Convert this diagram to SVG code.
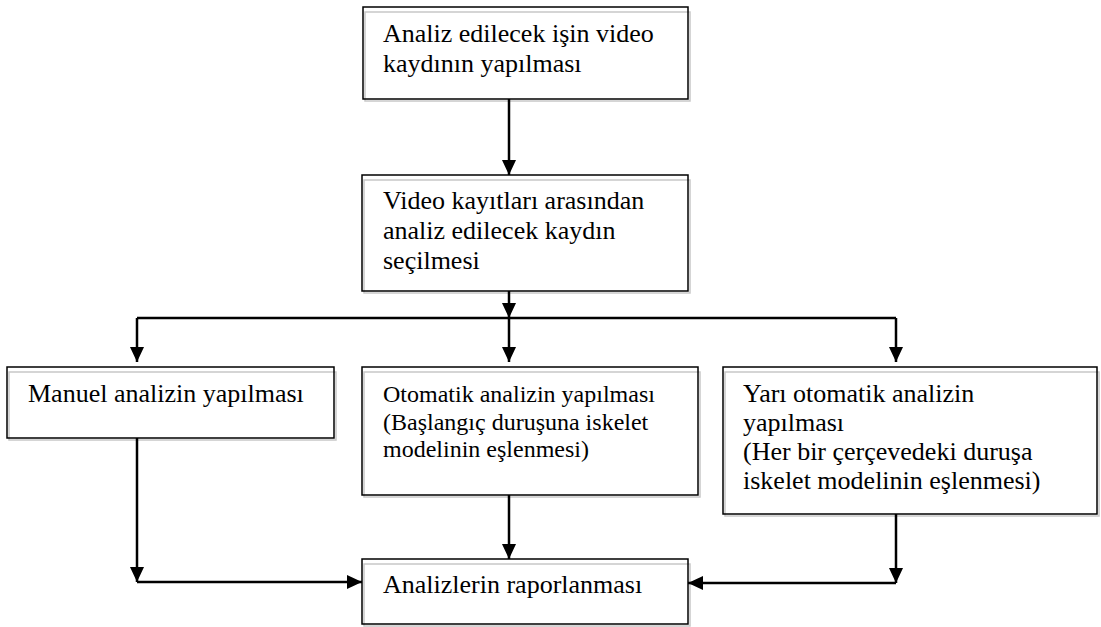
<svg xmlns="http://www.w3.org/2000/svg" width="1101" height="627" viewBox="0 0 1101 627">
  <style>
    .shadow { fill: none; stroke: #c8c8c8; stroke-width: 1.5; }
    .box { fill: none; stroke: #000; stroke-width: 1.5; }
    .lbl { font-family: "Liberation Serif", "Times New Roman", serif; font-size: 26px; fill: #000; }
    .sm { font-size: 24px; }
    .conn { fill: none; stroke: #000; stroke-width: 2.5; }
  </style>
  <defs>
    <marker id="ah" viewBox="0 0 15 14" refX="15" refY="7" markerWidth="15" markerHeight="14" markerUnits="userSpaceOnUse" orient="auto">
      <path d="M0,0 L15,7 L0,14 Z" fill="#000"/>
    </marker>
  </defs>
  <rect width="1101" height="627" fill="#fff"/>

  <g id="n1">
    <rect class="shadow" x="365" y="12" width="325" height="89"/>
    <rect class="box" x="363" y="7" width="325" height="92"/>
    <text class="lbl" x="383" y="42">Analiz edilecek işin video</text>
    <text class="lbl" x="383" y="72">kaydının yapılması</text>
  </g>

  <g id="n2">
    <rect class="shadow" x="364" y="180" width="326" height="113"/>
    <rect class="box" x="362" y="175" width="326" height="116"/>
    <text class="lbl" x="383" y="209">Video kayıtları arasından</text>
    <text class="lbl" x="383" y="239">analiz edilecek kaydın</text>
    <text class="lbl" x="383" y="269">seçilmesi</text>
  </g>

  <g id="n3">
    <rect class="shadow" x="9" y="372" width="327" height="68"/>
    <rect class="box" x="7" y="367" width="327" height="71"/>
    <text class="lbl" x="28" y="402">Manuel analizin yapılması</text>
  </g>

  <g id="n4">
    <rect class="shadow" x="364" y="372" width="336" height="125"/>
    <rect class="box" x="362" y="367" width="336" height="128"/>
    <text class="lbl sm" x="383" y="402">Otomatik analizin yapılması</text>
    <text class="lbl sm" x="383" y="429.5">(Başlangıç duruşuna iskelet</text>
    <text class="lbl sm" x="383" y="457">modelinin eşlenmesi)</text>
  </g>

  <g id="n5">
    <rect class="shadow" x="725" y="372" width="374" height="144"/>
    <rect class="box" x="723" y="367" width="374" height="147"/>
    <text class="lbl" x="743" y="402">Yarı otomatik analizin</text>
    <text class="lbl" x="743" y="431">yapılması</text>
    <text class="lbl" x="743" y="460">(Her bir çerçevedeki duruşa</text>
    <text class="lbl" x="743" y="489">iskelet modelinin eşlenmesi)</text>
  </g>

  <g id="n6">
    <rect class="shadow" x="364" y="564" width="326" height="62"/>
    <rect class="box" x="362" y="559" width="326" height="65"/>
    <text class="lbl" x="383" y="593">Analizlerin raporlanması</text>
  </g>

  <g id="connectors">
    <path class="conn" d="M509,99 V175" marker-end="url(#ah)"/>
    <path class="conn" d="M509,291 V318" marker-end="url(#ah)"/>
    <path class="conn" d="M137,318 H896"/>
    <path class="conn" d="M137,318 V362" marker-end="url(#ah)"/>
    <path class="conn" d="M509,318 V362" marker-end="url(#ah)"/>
    <path class="conn" d="M896,318 V362" marker-end="url(#ah)"/>
    <path class="conn" d="M137,438 V582" marker-end="url(#ah)"/>
    <path class="conn" d="M137,582 H362" marker-end="url(#ah)"/>
    <path class="conn" d="M509,495 V559" marker-end="url(#ah)"/>
    <path class="conn" d="M896,514 V583" marker-end="url(#ah)"/>
    <path class="conn" d="M896,583 H688" marker-end="url(#ah)"/>
  </g>
</svg>
